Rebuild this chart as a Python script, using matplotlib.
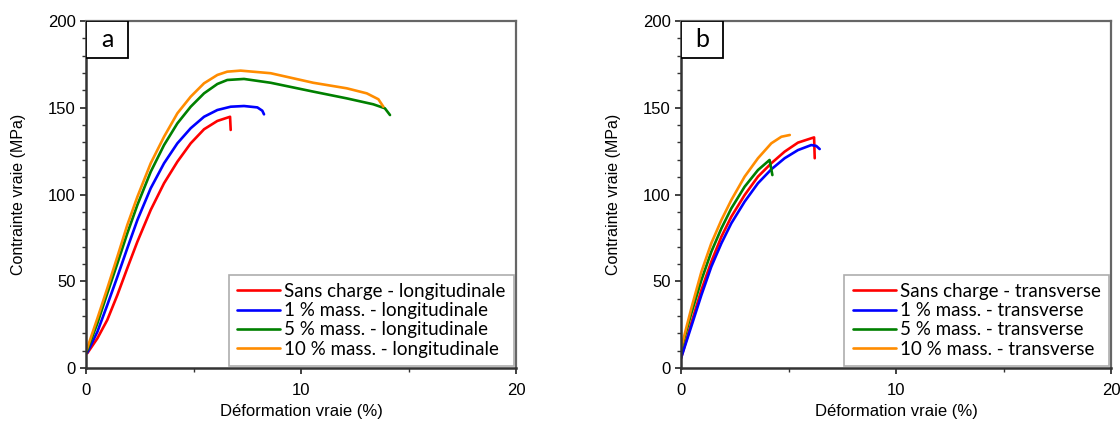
import matplotlib
matplotlib.use("Agg")
import matplotlib.pyplot as plt
from matplotlib.patches import Rectangle
from matplotlib.ticker import MultipleLocator

# ---- data (strain %, stress MPa) ----
long_sans_x = [0.06, 0.53, 0.99, 1.46, 1.92, 2.39, 3.01, 3.63, 4.25, 4.87, 5.49, 6.11, 6.7, 6.73]
long_sans_y = [8.5, 17.1, 27.7, 42.1, 57.5, 72.8, 91.1, 106.5, 118.9, 129.5, 137.6, 142.4, 144.8, 137.2]

long_1_x = [0.06, 0.53, 0.99, 1.46, 1.92, 2.39, 3.01, 3.63, 4.25, 4.87, 5.49, 6.11, 6.73, 7.35, 7.97, 8.2, 8.28]
long_1_y = [8.9, 20.9, 36.3, 52.6, 69, 85.3, 103.6, 118, 129.5, 138.2, 144.8, 148.7, 150.6, 151, 150.2, 148.3, 146.2]

long_5_x = [0.03, 0.53, 0.99, 1.46, 1.92, 2.39, 3.01, 3.63, 4.25, 4.87, 5.49, 6.11, 6.57, 7.35, 8.59,
            10.57, 12.13, 13.36, 13.9, 14.14]
long_5_y = [9.4, 25.8, 43, 60.3, 77.6, 94, 113.1, 128.5, 141, 150.6, 158.3, 163.7, 166, 166.6, 164.4,
            159.3, 155.4, 152, 149.7, 145.8]

long_10_x = [0.03, 0.53, 0.99, 1.46, 1.92, 2.39, 3.01, 3.63, 4.25, 4.87, 5.49, 6.11, 6.57, 7.19, 8.59,
             10.57, 12.13, 13.06, 13.6, 13.83]
long_10_y = [10.4, 28.6, 45.9, 64.2, 82.4, 98.7, 118, 133.3, 146.8, 156.4, 164.1, 168.9, 170.8, 171.4, 169.9,
             164.4, 161.2, 158.3, 154.9, 150.6]

trans_sans_x = [0.0, 0.48, 0.95, 1.41, 1.88, 2.34, 2.96, 3.58, 4.2, 4.82, 5.44, 6.06, 6.19, 6.22]
trans_sans_y = [5.6, 25.8, 45, 61.3, 75.7, 87.2, 99.7, 110.3, 118, 124.7, 129.9, 132.4, 132.9, 120.9]

trans_1_x = [0.0, 0.48, 0.95, 1.41, 1.88, 2.34, 2.96, 3.58, 4.2, 4.82, 5.44, 6.06, 6.29, 6.45]
trans_1_y = [5.6, 24, 42.1, 58.4, 71.9, 83.4, 95.9, 106.5, 114.5, 120.9, 125.6, 128.5, 128, 126.2]

trans_5_x = [0.0, 0.48, 0.95, 1.41, 1.88, 2.34, 2.96, 3.58, 4.12, 4.25]
trans_5_y = [10.4, 31.5, 50.7, 67, 80.5, 92, 104.5, 114.1, 119.9, 111.2]

trans_10_x = [0.0, 0.48, 0.95, 1.41, 1.88, 2.34, 2.96, 3.58, 4.2, 4.67, 5.06]
trans_10_y = [11.3, 34.4, 55.5, 71.9, 85.3, 96.8, 110.3, 120.9, 129.5, 133.3, 134.3]

labels_long = ["Sans charge - longitudinale", "1 % mass. - longitudinale",
               "5 % mass. - longitudinale", "10 % mass. - longitudinale"]
labels_trans = ["Sans charge - transverse", "1 % mass. - transverse",
                "5 % mass. - transverse", "10 % mass. - transverse"]
colors = ["#ff0000", "#0000ff", "#008000", "#ff8c00"]
panel_letters = ["a", "b"]
xlabel = "Déformation vraie (%)"
ylabel = "Contrainte vraie (MPa)"

arial = ["Liberation Sans", "DejaVu Sans"]
calibri = ["Lato", "DejaVu Sans"]

fig = plt.figure(figsize=(11.2, 4.23), dpi=100)
AXW, AXH = 430, 347
ax1 = fig.add_axes([86 / 1120, 55 / 423, AXW / 1120, AXH / 423])
ax2 = fig.add_axes([681 / 1120, 55 / 423, AXW / 1120, AXH / 423])

series = [
    (ax1, [(long_sans_x, long_sans_y), (long_1_x, long_1_y), (long_5_x, long_5_y), (long_10_x, long_10_y)], labels_long),
    (ax2, [(trans_sans_x, trans_sans_y), (trans_1_x, trans_1_y), (trans_5_x, trans_5_y), (trans_10_x, trans_10_y)], labels_trans),
]

for i, (ax, data, labs) in enumerate(series):
    for (x, y), c, lab in zip(data, colors, labs):
        ax.plot(x, y, color=c, lw=1.9, label=lab, solid_joinstyle="round", solid_capstyle="round")
    ax.set_xlim(0, 20)
    ax.set_ylim(0, 200)
    ax.xaxis.set_major_locator(MultipleLocator(10))
    ax.xaxis.set_minor_locator(MultipleLocator(5))
    ax.yaxis.set_major_locator(MultipleLocator(50))
    ax.yaxis.set_minor_locator(MultipleLocator(10))
    ax.tick_params(which="major", direction="out", length=4.5, width=1.3, color="#333333",
                   labelsize=12)
    ax.tick_params(axis="y", which="major", pad=3)
    ax.tick_params(axis="x", which="major", pad=6)
    ax.tick_params(which="minor", direction="out", length=3, width=1.0, color="#333333")
    for lbl in ax.get_xticklabels() + ax.get_yticklabels():
        lbl.set_family(arial)
    for s in ["left", "bottom"]:
        ax.spines[s].set_color("#333333")
        ax.spines[s].set_linewidth(1.8)
    for s in ["top", "right"]:
        ax.spines[s].set_color("#666666")
        ax.spines[s].set_linewidth(1.6)
    ax.set_xlabel(xlabel, family=arial, fontsize=12)
    ax.xaxis.set_label_coords(0.5, -(404 - 368) / AXH)
    ax.set_ylabel(ylabel, family=arial, fontsize=11.5)
    ax.yaxis.set_label_coords(-(86 - 26) / AXW, 0.5)
    leg = ax.legend(loc="lower right", prop={"family": calibri, "size": 13.5},
                    frameon=True, fancybox=False, borderaxespad=0.1,
                    handlelength=2.3, handletextpad=0.22, labelspacing=0.12,
                    borderpad=0.45)
    leg.get_frame().set_edgecolor("#999999")
    leg.get_frame().set_linewidth(1.2)
    # panel letter box
    w, h = 42 / AXW, 37 / AXH
    ax.add_patch(Rectangle((0, 1 - h), w, h, transform=ax.transAxes, fill=True,
                           facecolor="white", edgecolor="black", lw=1.3, zorder=5))
    ax.text(w / 2, 1 - h / 2, panel_letters[i], transform=ax.transAxes, ha="center",
            va="center", fontsize=18, family=calibri, zorder=6)

fig.savefig("out.png", dpi=100)
